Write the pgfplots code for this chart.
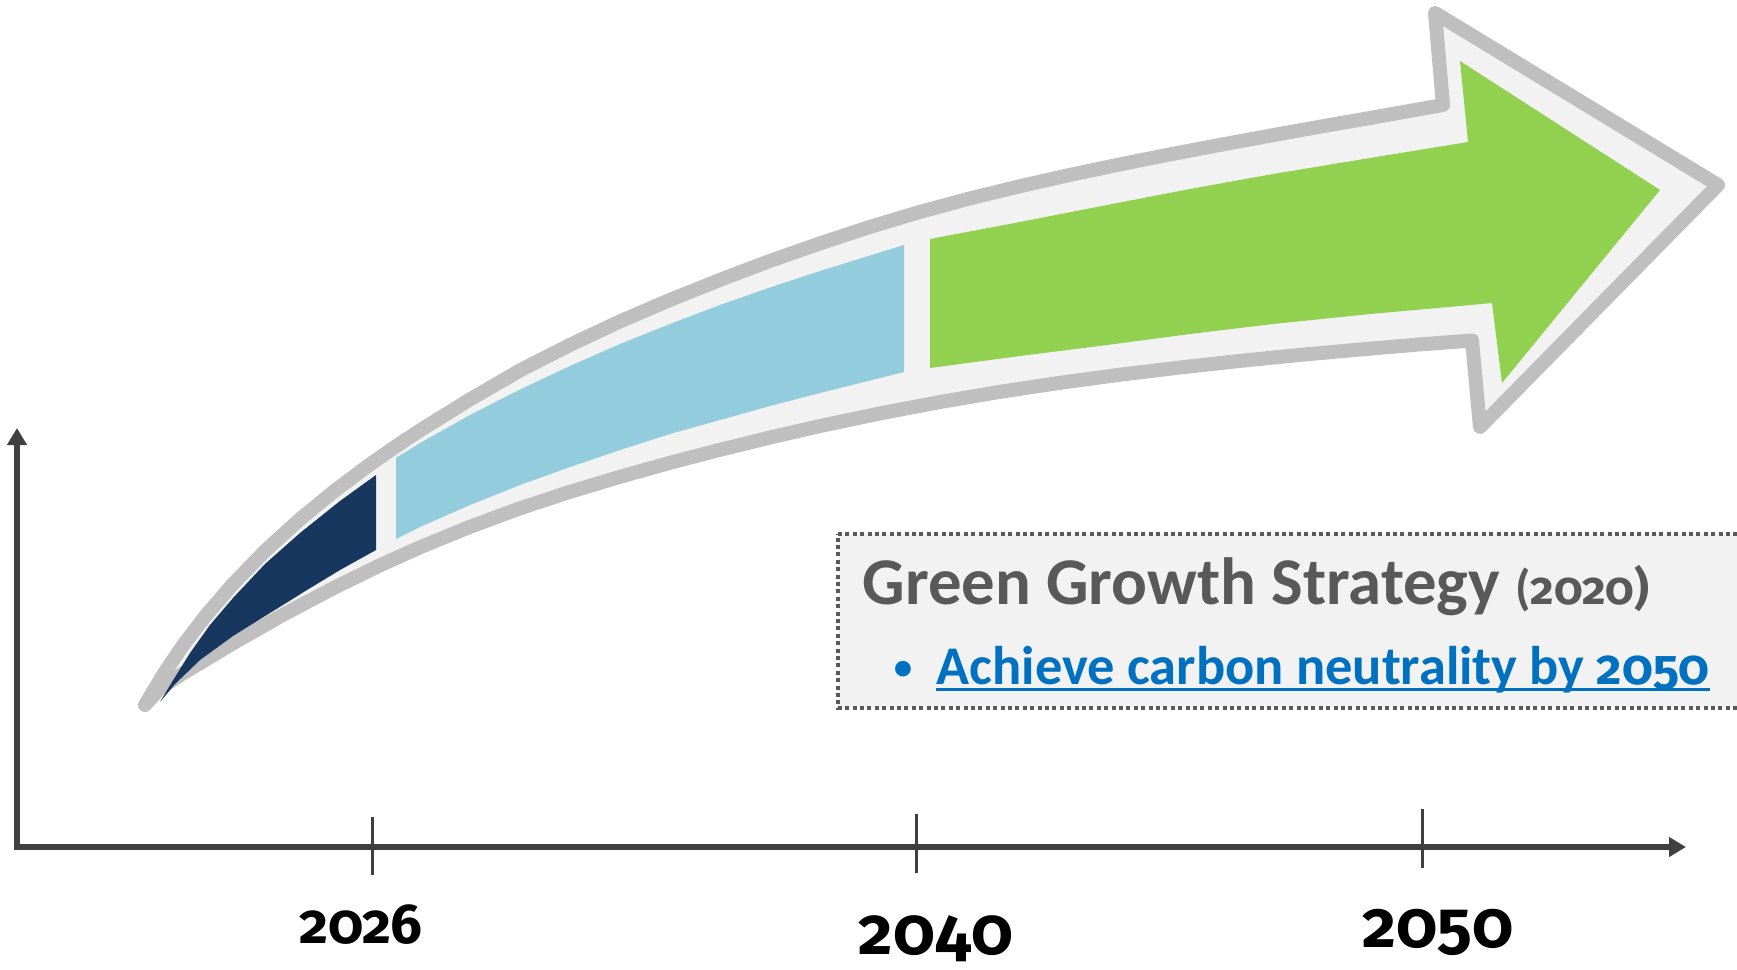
\documentclass[border=0pt]{standalone}
\usepackage{fontspec}
\setmainfont{Carlito}
\newfontfamily\osf{Fira Sans}[Numbers=OldStyle]
\usepackage{pgfplots}
\pgfplotsset{compat=1.18}
\usetikzlibrary{arrows.meta}
\definecolor{navy}{HTML}{17375E}
\definecolor{lblue}{HTML}{93CDDD}
\definecolor{lgreen}{HTML}{92D050}
\definecolor{outgray}{HTML}{BFBFBF}
\definecolor{ingray}{HTML}{F2F2F2}
\definecolor{axisgray}{HTML}{404040}
\definecolor{boxgray}{HTML}{595959}
\definecolor{titlegray}{HTML}{595959}
\definecolor{linkblue}{HTML}{0070C0}
\begin{document}
\begin{tikzpicture}
\begin{axis}[width=173.7mm, height=96.9mm, scale only axis, hide axis,
  xmin=0, xmax=1737, ymin=0, ymax=969, y dir=reverse, clip=true, no markers]
% outer arrow outline
\addplot[draw=outgray, fill=ingray, line width=1.4mm, line join=round] coordinates {
(145,705) (164,673.5) (183,645.4) (206,615.3) (233,584) (265,551) (300,519.2)
(335,490.5) (367,466.5) (395,446.9) (420,430.4) (470,399.4) (520,370.4) (570,344.9)
(620,321.4) (670,299.9) (720,279.9) (770,260.9) (820,243.4) (870,226.9) (920,211.9)
(970,198.4) (1020,186.2) (1070,174.9) (1120,164.4) (1170,154.4) (1220,144.9)
(1270,135.7) (1320,126.7) (1370,118) (1443,105)
(1435,13) (1718,185) (1480,427) (1472,340.5)
(1420,344.4) (1360,349.5) (1300,354.9) (1240,360.9) (1180,367.5) (1120,374.7)
(1060,382.8) (1000,391.8) (940,402) (880,413.4) (820,426) (770,437.5) (720,449.8)
(670,462.8) (620,476.8) (570,491.8) (520,508.3) (470,526.8) (420,547.3) (380,565.3)
(333,588.3) (283,614.8) (233,643.3) (183,673.3) (160,688.3)} -- cycle;
% navy segment
\addplot[draw=none, fill=navy] coordinates {
(160,702) (172,682) (190,653) (210,625) (233,598) (265,564) (300,533) (340,501)
(376,475) (376,550) (340,570) (307,590) (270,613) (233,636) (200,660) (175,684)} -- cycle;
% light blue segment
\addplot[draw=none, fill=lblue] coordinates {
(396,458) (420,443) (470,415) (520,389.5) (570,366) (620,344) (670,324) (720,305)
(770,287.5) (820,271) (862,258) (904,245) (904,372) (820,393) (770,406) (720,420)
(670,434) (620,450) (570,467) (520,485) (470,505) (420,527) (396,539)} -- cycle;
% green segment
\addplot[draw=none, fill=lgreen] coordinates {
(930,239) (1020,222) (1107,205) (1190,189) (1273,174) (1370,158) (1468,142)
(1460,61) (1660,190) (1502,383) (1492,303) (1460,306) (1370,314) (1273,324)
(1190,334) (1107,345) (1020,356) (930,368)} -- cycle;
% dotted box
\addplot[draw=boxgray, fill=ingray, line width=0.4mm, dash pattern=on 0.4mm off 0.34mm]
coordinates {(838,534) (1800,534) (1800,708) (838,708)} -- cycle;
% axes
\addplot[draw=axisgray, line width=0.55mm,
  {Triangle[width=1.9mm,length=1.7mm]}-{Triangle[width=1.9mm,length=1.7mm]}]
  coordinates {(17,428) (17,847) (1686,847)};
\addplot[draw=axisgray, line width=0.3mm] coordinates {(372,817) (372,875)};
\addplot[draw=axisgray, line width=0.3mm] coordinates {(916,814) (916,873)};
\addplot[draw=axisgray, line width=0.3mm] coordinates {(1422,809) (1422,868)};
% year labels
\node[anchor=base, inner sep=0pt, font=\osf\bfseries\fontsize{16pt}{20pt}\selectfont] at (axis cs:361,943) {2026};
\node[anchor=base, inner sep=0pt, font=\osf\bfseries\fontsize{19pt}{24pt}\selectfont] at (axis cs:936,954) {2040};
\node[anchor=base, inner sep=0pt, font=\osf\bfseries\fontsize{18.7pt}{24pt}\selectfont] at (axis cs:1438,947) {2050};
% box text
\node[anchor=base west, inner sep=0pt, text=titlegray, font=\bfseries\fontsize{19pt}{22pt}\selectfont]
  at (axis cs:862,604) {Green Growth Strategy {\fontsize{14pt}{17pt}\selectfont(\osf\fontsize{13pt}{17pt}\selectfont 2020)}};
\node[anchor=base, inner sep=0pt, text=linkblue, font=\bfseries\fontsize{10.5pt}{12pt}\selectfont]
  at (axis cs:903,679) {•};
\node (ach) [anchor=base west, inner sep=0pt, text=linkblue, font=\bfseries\fontsize{15.5pt}{18pt}\selectfont]
  at (axis cs:936,684) {Achieve carbon neutrality by {\osf\fontsize{14pt}{18pt}\selectfont 2050}};
\draw[linkblue, line width=0.22mm] ([yshift=-0.55mm]ach.base west) -- ([yshift=-0.55mm]ach.base east);
\end{axis}
\pgfresetboundingbox
\path[use as bounding box] (current axis.south west) rectangle (current axis.north east);
\end{tikzpicture}
\end{document}
